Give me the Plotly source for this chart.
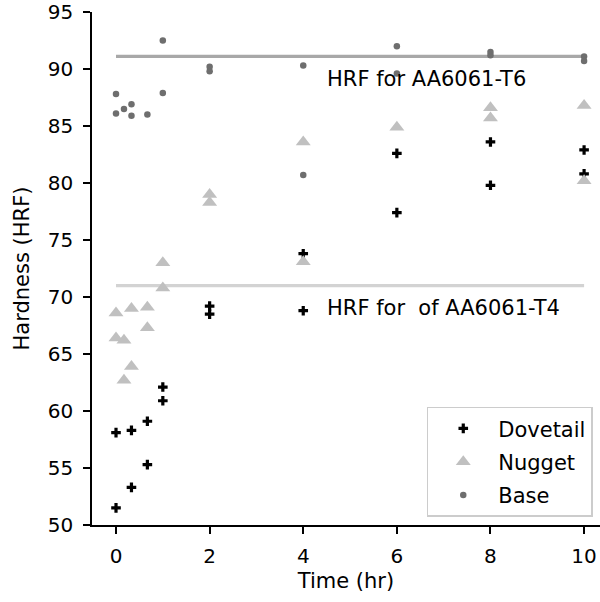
import plotly.graph_objects as go

# Data
dove_t = [0, 0, 0.33, 0.33, 0.67, 0.67, 1, 1, 2, 2, 4, 4, 6, 6, 8, 8, 10, 10]
dove_h = [51.5, 58.1, 53.3, 58.3, 59.1, 55.3, 62.1, 60.9, 69.2, 68.5, 73.8, 68.8, 82.6, 77.4, 83.6, 79.8, 82.9, 80.8]

nug_t = [0, 0, 0.17, 0.17, 0.33, 0.33, 0.67, 0.67, 1, 1, 2, 2, 4, 4, 6, 8, 8, 10, 10]
nug_h = [68.6, 66.4, 66.2, 62.7, 69.0, 63.9, 69.1, 67.3, 73.0, 70.8, 79.0, 78.3, 83.6, 73.1, 84.9, 86.6, 85.7, 86.8, 80.2]

base_t = [0, 0, 0.17, 0.33, 0.33, 0.67, 1, 1, 2, 2, 4, 4, 6, 6, 8, 8, 10, 10]
base_h = [87.8, 86.1, 86.5, 86.9, 85.9, 86.0, 92.5, 87.9, 90.2, 89.8, 90.3, 80.7, 92.0, 89.6, 91.5, 91.2, 91.1, 90.7]

ref_t = [0, 10]
t6_h = [91.1, 91.1]
t4_h = [71.0, 71.0]

FONT = "DejaVu Sans"

fig = go.Figure()
fig.add_trace(go.Scatter(x=ref_t, y=t6_h, mode="lines", line=dict(color="#a8a8a8", width=3.2),
                         showlegend=False, hoverinfo="skip"))
fig.add_trace(go.Scatter(x=ref_t, y=t4_h, mode="lines", line=dict(color="#d3d3d3", width=3.2),
                         showlegend=False, hoverinfo="skip"))
fig.add_trace(go.Scatter(x=dove_t, y=dove_h, mode="markers", name="Dovetail", legendgroup="a",
                         marker=dict(symbol="cross", size=8, color="black", line=dict(width=0))))
fig.add_trace(go.Scatter(x=nug_t, y=nug_h, mode="markers", name="Nugget", legendgroup="b",
                         marker=dict(symbol="triangle-up", size=13, color="#c0c0c0", line=dict(width=0))))
fig.add_trace(go.Scatter(x=base_t, y=base_h, mode="markers", name="Base", legendgroup="c",
                         marker=dict(symbol="circle", size=6.5, color="#6e6e6e", line=dict(width=0))))

fig.add_annotation(x=4.47, y=89.15, xref="x", yref="y", text="HRF for AA6061-T6", showarrow=False,
                   xanchor="left", yanchor="middle", font=dict(size=21, color="black", family=FONT))
fig.add_annotation(x=4.47, y=69.0, xref="x", yref="y", text="HRF for  of AA6061-T4", showarrow=False,
                   xanchor="left", yanchor="middle", font=dict(size=21, color="black", family=FONT))

fig.update_layout(
    width=600, height=602,
    margin=dict(l=92, r=0, t=12, b=77),
    plot_bgcolor="white", paper_bgcolor="white",
    font=dict(family=FONT, size=21, color="black"),
    legend=dict(x=0.659, y=0.2305, xanchor="left", yanchor="top",
                bordercolor="#cccccc", borderwidth=1.5, bgcolor="white",
                tracegroupgap=3, itemwidth=60, font=dict(size=21)),
)
fig.update_xaxes(range=[-0.513, 10.34], tickvals=[0, 2, 4, 6, 8, 10], showgrid=False, zeroline=False,
                 automargin=False, tickfont=dict(size=20), ticklabelstandoff=5,
                 showline=True, linecolor="black", linewidth=1.6, ticks="outside", ticklen=7,
                 tickwidth=1.6, tickcolor="black",
                 title=dict(text="Time (hr)", font=dict(size=21), standoff=7))
fig.update_yaxes(range=[50, 95], tickvals=[50, 55, 60, 65, 70, 75, 80, 85, 90, 95], showgrid=False,
                 automargin=False, tickfont=dict(size=20), ticklabelstandoff=6,
                 zeroline=False, showline=True, linecolor="black", linewidth=1.6, ticks="outside",
                 ticklen=7, tickwidth=1.6, tickcolor="black",
                 title=dict(text="Hardness (HRF)", font=dict(size=21), standoff=12))

fig.write_html("out.html", post_script="document.body.style.margin='0';",
               config={"displayModeBar": False})
